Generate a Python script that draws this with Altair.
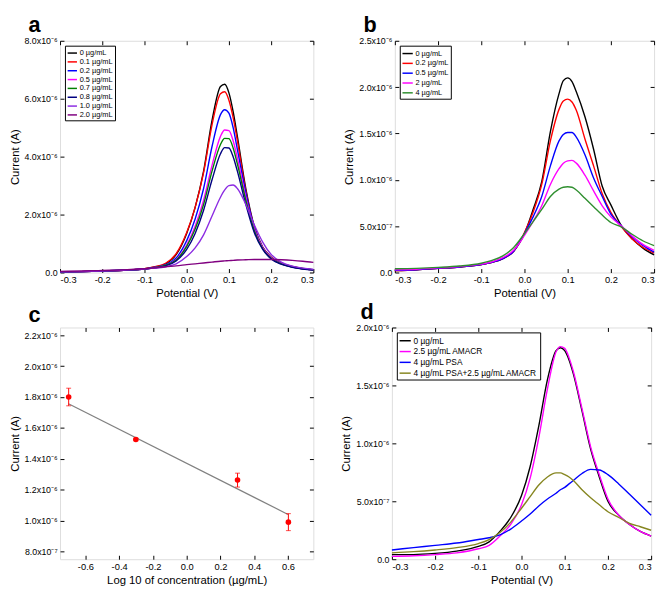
import altair as alt
import numpy as np
import pandas as pd

FONT = "Liberation Sans"

# common potential grid (V) used for the voltammograms
potential = [-0.3, -0.25, -0.2, -0.15, -0.1, -0.075, -0.05, -0.025, 0.0, 0.02, 0.04,
             0.06, 0.08, 0.09, 0.10, 0.11, 0.12, 0.14, 0.16, 0.18, 0.20, 0.225, 0.25,
             0.275, 0.3]

# ---- panel a (current in 1e-6 A) ----
a_names = ["0 µg/mL", "0.1 µg/mL", "0.2 µg/mL", "0.5 µg/mL", "0.7 µg/mL",
           "0.8 µg/mL", "1.0 µg/mL", "2.0 µg/mL"]
a_colors = ["#000000", "#ff0000", "#0000ff", "#ff00ff", "#008000", "#000080",
            "#8b2be2", "#800080"]
a_0 = [0.02, 0.03, 0.05, 0.08, 0.13, 0.19, 0.30, 0.62, 1.35, 2.25, 3.50, 5.25, 6.42,
       6.50, 6.20, 5.55, 4.70, 2.90, 1.60, 0.88, 0.53, 0.32, 0.21, 0.14, 0.10]
a_01 = [0.02, 0.03, 0.05, 0.08, 0.13, 0.20, 0.32, 0.65, 1.38, 2.25, 3.45, 5.10, 6.17,
        6.24, 5.95, 5.35, 4.55, 2.82, 1.56, 0.86, 0.52, 0.31, 0.20, 0.13, 0.09]
a_02 = [0.02, 0.03, 0.05, 0.08, 0.12, 0.18, 0.27, 0.50, 1.10, 1.85, 2.90, 4.35, 5.45,
        5.62, 5.50, 5.00, 4.25, 2.75, 1.55, 0.85, 0.50, 0.30, 0.19, 0.13, 0.09]
a_05 = [0.02, 0.03, 0.05, 0.08, 0.12, 0.17, 0.25, 0.45, 0.95, 1.60, 2.50, 3.70, 4.70,
        4.92, 4.90, 4.55, 3.95, 2.60, 1.50, 0.85, 0.50, 0.30, 0.20, 0.13, 0.10]
a_07 = [0.02, 0.03, 0.05, 0.08, 0.12, 0.17, 0.25, 0.43, 0.90, 1.50, 2.35, 3.50, 4.42,
        4.63, 4.62, 4.30, 3.75, 2.50, 1.45, 0.82, 0.48, 0.29, 0.19, 0.13, 0.09]
a_08 = [0.02, 0.03, 0.05, 0.08, 0.12, 0.16, 0.23, 0.40, 0.80, 1.35, 2.15, 3.20, 4.10,
        4.31, 4.30, 4.00, 3.50, 2.35, 1.38, 0.80, 0.47, 0.28, 0.18, 0.12, 0.08]
a_10 = [0.02, 0.03, 0.05, 0.08, 0.12, 0.15, 0.20, 0.30, 0.55, 0.85, 1.30, 1.95, 2.60,
        2.85, 3.00, 3.02, 2.90, 2.35, 1.65, 1.05, 0.62, 0.35, 0.22, 0.15, 0.11]
a_20 = [0.04, 0.05, 0.07, 0.09, 0.13, 0.16, 0.20, 0.23, 0.27, 0.30, 0.33, 0.36, 0.39,
        0.40, 0.41, 0.42, 0.43, 0.44, 0.45, 0.45, 0.45, 0.44, 0.42, 0.39, 0.35]

# ---- panel b ----
b_names = ["0 µg/mL", "0.2 µg/mL", "0.5 µg/mL", "2 µg/mL", "4 µg/mL"]
b_colors = ["#000000", "#ff0000", "#0000ff", "#ff00ff", "#2f8f2f"]
b_0 = [0.02, 0.03, 0.045, 0.06, 0.085, 0.11, 0.15, 0.23, 0.42, 0.68, 0.98, 1.52, 1.93,
       2.07, 2.10, 2.06, 1.95, 1.68, 1.33, 0.93, 0.73, 0.50, 0.36, 0.26, 0.19]
b_02 = [0.02, 0.03, 0.045, 0.06, 0.085, 0.11, 0.15, 0.23, 0.43, 0.65, 0.95, 1.42, 1.76,
        1.85, 1.87, 1.84, 1.75, 1.44, 1.15, 0.85, 0.65, 0.49, 0.36, 0.27, 0.21]
b_05 = [0.025, 0.03, 0.045, 0.06, 0.085, 0.11, 0.15, 0.23, 0.42, 0.60, 0.82, 1.15, 1.42,
        1.49, 1.51, 1.51, 1.46, 1.27, 1.02, 0.82, 0.63, 0.50, 0.38, 0.29, 0.22]
b_2 = [0.03, 0.035, 0.05, 0.065, 0.09, 0.115, 0.16, 0.24, 0.40, 0.55, 0.72, 0.95, 1.12,
       1.18, 1.205, 1.21, 1.18, 1.05, 0.88, 0.72, 0.60, 0.50, 0.39, 0.30, 0.24]
b_4 = [0.04, 0.045, 0.055, 0.07, 0.10, 0.13, 0.18, 0.27, 0.42, 0.55, 0.68, 0.82, 0.90,
       0.92, 0.925, 0.92, 0.89, 0.80, 0.71, 0.62, 0.54, 0.49, 0.41, 0.34, 0.29]

# ---- panel c ----
c_conc = [0.2, 0.5, 2.0, 4.0]            # µg/mL
c_current = [1.80, 1.525, 1.262, 0.99]   # 1e-6 A
c_err = [0.057, 0.008, 0.045, 0.055]
fit_x = [-0.70, 0.60]
fit_y = [1.757, 1.040]

# ---- panel d ----
d_names = ["0 µg/mL", "2.5 µg/mL AMACR", "4 µg/mL PSA", "4 µg/mL PSA+2.5 µg/mL AMACR"]
d_colors = ["#000000", "#ff00ff", "#0000ff", "#868620"]
d_0 = [0.04, 0.04, 0.05, 0.07, 0.11, 0.15, 0.24, 0.36, 0.55, 0.80, 1.15, 1.55, 1.80,
       1.825, 1.80, 1.72, 1.60, 1.28, 0.95, 0.71, 0.50, 0.38, 0.30, 0.24, 0.20]
d_amacr = [0.025, 0.03, 0.04, 0.055, 0.09, 0.12, 0.20, 0.30, 0.47, 0.70, 1.05, 1.47, 1.79,
           1.835, 1.82, 1.74, 1.62, 1.30, 0.97, 0.73, 0.52, 0.38, 0.30, 0.24, 0.20]
d_psa = [0.08, 0.10, 0.12, 0.14, 0.17, 0.185, 0.21, 0.26, 0.33, 0.39, 0.46, 0.52, 0.57,
         0.60, 0.62, 0.65, 0.68, 0.74, 0.775, 0.77, 0.73, 0.65, 0.56, 0.47, 0.38]
d_both = [0.055, 0.065, 0.08, 0.10, 0.135, 0.17, 0.23, 0.32, 0.44, 0.54, 0.64, 0.71, 0.745,
          0.745, 0.73, 0.71, 0.68, 0.60, 0.53, 0.47, 0.41, 0.36, 0.31, 0.28, 0.25]

x_ticks_v = [-0.3, -0.2, -0.1, 0.0, 0.1, 0.2, 0.3]
c_x_ticks = [-0.6, -0.4, -0.2, 0.0, 0.2, 0.4, 0.6]
c_y_ticks = [0.8, 1.0, 1.2, 1.4, 1.6, 1.8, 2.0, 2.2]

WL, WR, H = 258, 264, 236
TICK = 4

Y_LABEL = ("datum.value == 0 ? '0.0' : (datum.value < 0.95 ? "
           "format(datum.value*10, '.1f') + 'x10\u207b\u2077' : "
           "format(datum.value, '.1f') + 'x10\u207b\u2076')")
X_LABEL = "(datum.value < -0.001 ? '-' : '') + format(abs(datum.value), '.1f')"


def bottom_axis(title, ticks):
    return alt.Axis(title=title, values=ticks, labelExpr=X_LABEL, orient="bottom",
                    offset=-TICK, tickSize=TICK, domain=False, grid=False,
                    labelPadding=2, labelFontSize=9.5, titleFontSize=11.5,
                    titleFontWeight="normal", titlePadding=4, labelColor="#000",
                    tickColor="#000", titleColor="#000")


def left_axis(ticks):
    return alt.Axis(title="Current (A)", values=ticks, labelExpr=Y_LABEL, orient="left",
                    offset=-TICK, tickSize=TICK, domain=False, grid=False,
                    labelPadding=3, labelFontSize=9, titleFontSize=11.5,
                    titleFontWeight="normal", titlePadding=4, labelColor="#000",
                    tickColor="#000", titleColor="#000")


def top_axis(ticks):
    return alt.Axis(title=None, values=ticks, labels=False, orient="top",
                    offset=-TICK, tickSize=TICK, domain=False, grid=False,
                    tickColor="#000")


def right_axis(ticks):
    return alt.Axis(title=None, values=ticks, labels=False, orient="right",
                    offset=-TICK, tickSize=TICK, domain=False, grid=False,
                    tickColor="#000")


def panel_title(letter):
    return alt.TitleParams(letter, anchor="start", frame="group", fontSize=22,
                           fontWeight="bold", font=FONT, dx=-32, offset=0,
                           color="#000")


def curve_panel(letter, names, colors, arrays, ydom, yticks, lfont, lsym, width):
    rows = []
    for name, arr in zip(names, arrays):
        for p, v in zip(potential, arr):
            rows.append({"potential": p, "current": v, "series": name})
    df = pd.DataFrame(rows)
    xs = alt.Scale(domain=[-0.3, 0.3], nice=False, zero=False)
    ys = alt.Scale(domain=ydom, nice=False, zero=False)
    base = alt.Chart(df)
    lines = base.mark_line(strokeWidth=1.4, interpolate="monotone").encode(
        x=alt.X("potential:Q", scale=xs, axis=bottom_axis("Potential (V)", x_ticks_v)),
        y=alt.Y("current:Q", scale=ys, axis=left_axis(yticks)),
        color=alt.Color("series:N", sort=names,
                        scale=alt.Scale(domain=names, range=colors),
                        legend=alt.Legend(title=None, orient="top-left", offset=5,
                                          symbolType="stroke", symbolStrokeWidth=1.5,
                                          symbolSize=lsym, labelFontSize=lfont,
                                          labelFont=FONT, labelColor="#000",
                                          strokeColor="#000", fillColor="#fff",
                                          padding=2, rowPadding=0, labelOffset=2,
                                          labelLimit=300)),
    )
    mirror = base.mark_line(opacity=0).encode(
        x=alt.X("potential:Q", scale=xs, axis=top_axis(x_ticks_v)),
        y=alt.Y("current:Q", scale=ys, axis=right_axis(yticks)),
    )
    return (alt.layer(lines, mirror)
            .resolve_axis(x="independent", y="independent")
            .properties(width=width, height=H, title=panel_title(letter)))


pa = curve_panel("a", a_names, a_colors, [a_0, a_01, a_02, a_05, a_07, a_08, a_10, a_20],
                 [0, 8], [0, 2, 4, 6, 8], 7.5, 90, WL)
pb = curve_panel("b", b_names, b_colors, [b_0, b_02, b_05, b_2, b_4],
                 [0, 2.5], [0, 0.5, 1.0, 1.5, 2.0, 2.5], 7.5, 110, WR)
pd_ = curve_panel("d", d_names, d_colors, [d_0, d_amacr, d_psa, d_both],
                  [0, 2.0], [0, 0.5, 1.0, 1.5, 2.0], 8.5, 130, WR)

# panel c
cdf = pd.DataFrame({"logc": np.log10(c_conc), "current": c_current, "err": c_err})
fdf = pd.DataFrame({"logc": fit_x, "current": fit_y})
cxs = alt.Scale(domain=[-0.75, 0.75], nice=False, zero=False)
cys = alt.Scale(domain=[0.75, 2.25], nice=False, zero=False)
c_xaxis = bottom_axis("Log 10 of concentration (µg/mL)", c_x_ticks)
c_yaxis = left_axis(c_y_ticks)
cbase = alt.Chart(cdf)
fit = alt.Chart(fdf).mark_line(color="#808080", strokeWidth=1.2).encode(
    x=alt.X("logc:Q", scale=cxs, axis=c_xaxis),
    y=alt.Y("current:Q", scale=cys, axis=c_yaxis),
)
err = cbase.transform_calculate(lo="datum.current - datum.err",
                                hi="datum.current + datum.err").mark_errorbar(
    ticks=True, color="#ff0000").encode(
    x=alt.X("logc:Q", scale=cxs, axis=c_xaxis),
    y=alt.Y("lo:Q", scale=cys, axis=c_yaxis),
    y2="hi:Q",
)
pts = cbase.mark_circle(size=32, color="#ff0000", opacity=1).encode(
    x=alt.X("logc:Q", scale=cxs, axis=c_xaxis),
    y=alt.Y("current:Q", scale=cys, axis=c_yaxis),
)
cmirror = alt.Chart(fdf).mark_line(opacity=0).encode(
    x=alt.X("logc:Q", scale=cxs, axis=top_axis(c_x_ticks)),
    y=alt.Y("current:Q", scale=cys, axis=right_axis(c_y_ticks)),
)
pc = (alt.layer(alt.layer(fit, err, pts), cmirror)
      .resolve_axis(x="independent", y="independent")
      .properties(width=WL, height=H, title=panel_title("c")))

row1 = alt.hconcat(pa, pb, spacing=26).resolve_scale(color="independent")
row2 = alt.hconcat(pc, pd_, spacing=26).resolve_scale(color="independent")
chart = (alt.vconcat(row1, row2, spacing=0)
         .resolve_scale(color="independent")
         .properties(padding=0)
         .configure_view(stroke="#000", strokeWidth=1.3)
         .configure(font=FONT)
         .configure_axis(labelFont=FONT, titleFont=FONT))

chart.save("out.html", embed_options={"renderer": "svg", "actions": False})
